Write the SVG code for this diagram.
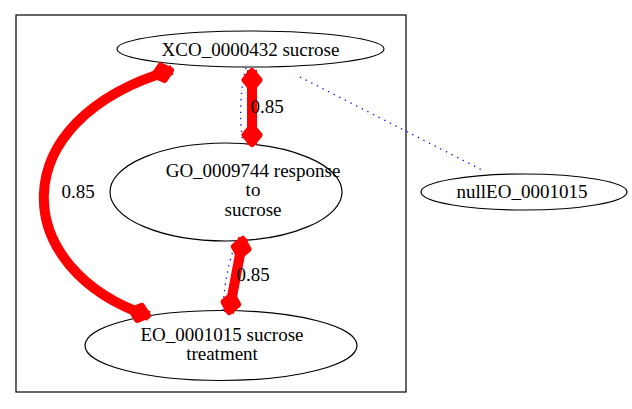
<svg xmlns="http://www.w3.org/2000/svg" width="632" height="409" viewBox="0 0 632 409">
<style>
text{font-family:'Liberation Serif','DejaVu Serif',serif;font-size:19px;fill:#000;text-anchor:middle}
.n{fill:#fff;stroke:#000;stroke-width:1.2}
.r{fill:none;stroke:#f00;stroke-width:10;marker-start:url(#d);marker-end:url(#d)}
.b{fill:none;stroke:#00f;stroke-width:1.3;stroke-dasharray:1.3,5}
</style>
<defs>
<marker id="d" markerUnits="userSpaceOnUse" viewBox="-4 -12 28 24" markerWidth="28" markerHeight="24" refX="20" refY="0" orient="auto-start-reverse">
<path d="M1,0 L10,-7.5 L19,0 L10,7.5 Z" fill="#f00" stroke="#f00" stroke-width="6" stroke-linejoin="round"/>
</marker>
</defs>
<rect x="16" y="15" width="390" height="377" fill="none" stroke="#000" stroke-width="1.2"/>
<g id="XCO_0000432" font-family="Liberation Serif, DejaVu Serif, serif">
<ellipse class="n" cx="250.5" cy="49" rx="133.5" ry="18"/>
<text x="250.5" y="56">XCO_0000432 sucrose</text>
</g>
<g id="GO_0009744" font-family="Liberation Serif, DejaVu Serif, serif">
<ellipse class="n" cx="226" cy="192" rx="116" ry="49"/>
<text x="253" y="177">GO_0009744 response</text>
<text x="253" y="196">to</text>
<text x="253" y="216">sucrose</text>
</g>
<g id="EO_0001015" font-family="Liberation Serif, DejaVu Serif, serif">
<ellipse class="n" cx="221" cy="345.5" rx="136" ry="35"/>
<text x="222" y="341">EO_0001015 sucrose</text>
<text x="222" y="360">treatment</text>
</g>
<g id="nullEO_0001015" font-family="Liberation Serif, DejaVu Serif, serif">
<ellipse class="n" cx="524" cy="192" rx="103" ry="18"/>
<text x="522" y="198">nullEO_0001015</text>
</g>
<g id="connectors" font-family="Liberation Serif, DejaVu Serif, serif">
<path class="b" d="M300,77 L482,170"/>
<path class="b" d="M246,68 C240,90 239,120 243,143"/>
<path class="b" d="M236,241 C230,260 224,280 223,311"/>
<path class="r" d="M172,70 C0,120 10,270 149,316"/>
<path class="r" d="M252,70 L252,145"/>
<path class="r" d="M243,238 L229,313"/>
<text x="78" y="198">0.85</text>
<text x="267" y="113">0.85</text>
<text x="253" y="281">0.85</text>
</g>
</svg>
